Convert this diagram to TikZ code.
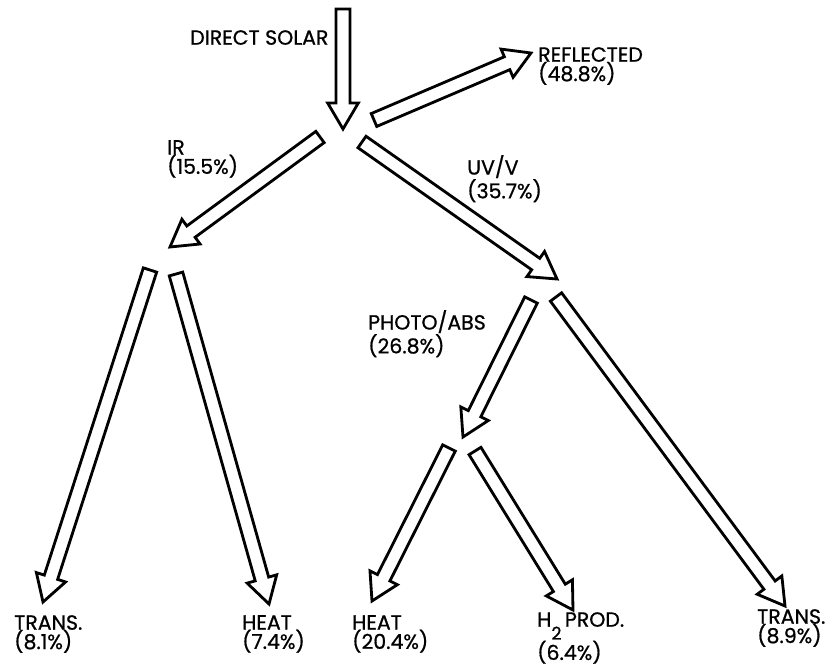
\documentclass[tikz,border=0pt]{standalone}
\usepackage{fontspec}
\setmainfont{Poppins}[FakeBold=0.8]
\usetikzlibrary{calc}

% hollow block arrow from #1 to #2
\newcommand{\shaftw}{0.21cm}
\newcommand{\headw}{0.46cm}
\newcommand{\headlen}{0.78cm}
\newcommand{\fatarrow}[2]{%
	\draw[blockarrow] ($(#1)!\shaftw!90:(#2)$)
		-- ($(#2)!\headlen!(#1)!\shaftw!90:(#2)$)
		-- ($(#2)!\headlen!(#1)!\headw!90:(#2)$)
		-- (#2)
		-- ($(#2)!\headlen!(#1)!\headw!-90:(#2)$)
		-- ($(#2)!\headlen!(#1)!\shaftw!-90:(#2)$)
		-- ($(#1)!\shaftw!-90:(#2)$) -- cycle;}

\begin{document}
\begin{tikzpicture}[
	x=0.03cm, y=-0.03cm,
	blockarrow/.style={draw, line width=2.4pt, line join=miter, fill=white},
	label/.style={font=\fontsize{17.5}{16.5}\selectfont, anchor=north west, inner sep=0pt, align=left}
	]
	\useasboundingbox (0,0) rectangle (833,672);
	
	% ======================
	% Einstrahlung oben
	% ======================
	\coordinate (SolTop) at (343,9);
	\coordinate (SolTip) at (343,129);
	\coordinate (RefS) at (374,120);
	\coordinate (RefT) at (531,53);
	\coordinate (IRS) at (320,137);
	\coordinate (IRT) at (170,247);
	\coordinate (UVS) at (362,142);
	\coordinate (UVT) at (557,279);
	
	\fatarrow{SolTop}{SolTip}
	\fatarrow{RefS}{RefT}
	\fatarrow{IRS}{IRT}
	\fatarrow{UVS}{UVT}
	
	\node[label] (Sol) at (190,30) {DIRECT SOLAR};
	\node[label] (Ref) at (538,47) {REFLECTED\\(48.8\%)};
	\node[label] (IR) at (167,140) {IR\\(15.5\%)};
	\node[label] (UV) at (467,155) {UV/V\\(35.7\%)};
	
	% ======================
	% IR-Zweig
	% ======================
	\coordinate (TR1S) at (150,270);
	\coordinate (TR1T) at (43,602);
	\coordinate (HE1S) at (176,274);
	\coordinate (HE1T) at (269,604);
	
	\fatarrow{TR1S}{TR1T}
	\fatarrow{HE1S}{HE1T}
	
	\node[label] (TR1) at (14,615) {TRANS.\\(8.1\%)};
	\node[label] (HE1) at (242,615) {HEAT\\(7.4\%)};
	
	% ======================
	% UV/V-Zweig
	% ======================
	\coordinate (PAS) at (531,300);
	\coordinate (PAT) at (463,437);
	\coordinate (TR2S) at (556,297);
	\coordinate (TR2T) at (785,606);
	
	\fatarrow{PAS}{PAT}
	\fatarrow{TR2S}{TR2T}
	
	\node[label] (PA) at (368,310) {PHOTO/ABS\\(26.8\%)};
	\node[label] (TR2) at (757,609) {TRANS.\\(8.9\%)};
	
	% PHOTO/ABS unten
	\coordinate (HE2S) at (449,448);
	\coordinate (HE2T) at (372,601);
	\coordinate (H2S) at (475,451);
	\coordinate (H2T) at (573,610);
	
	\fatarrow{HE2S}{HE2T}
	\fatarrow{H2S}{H2T}
	
	\node[label] (HE2) at (352,615) {HEAT\\(20.4\%)};
	\node[label] (H2) at (537,612) {H\raisebox{-11pt}{\fontsize{15}{15}\selectfont 2}\,PROD.\\(6.4\%)};
	
\end{tikzpicture}
\end{document}
